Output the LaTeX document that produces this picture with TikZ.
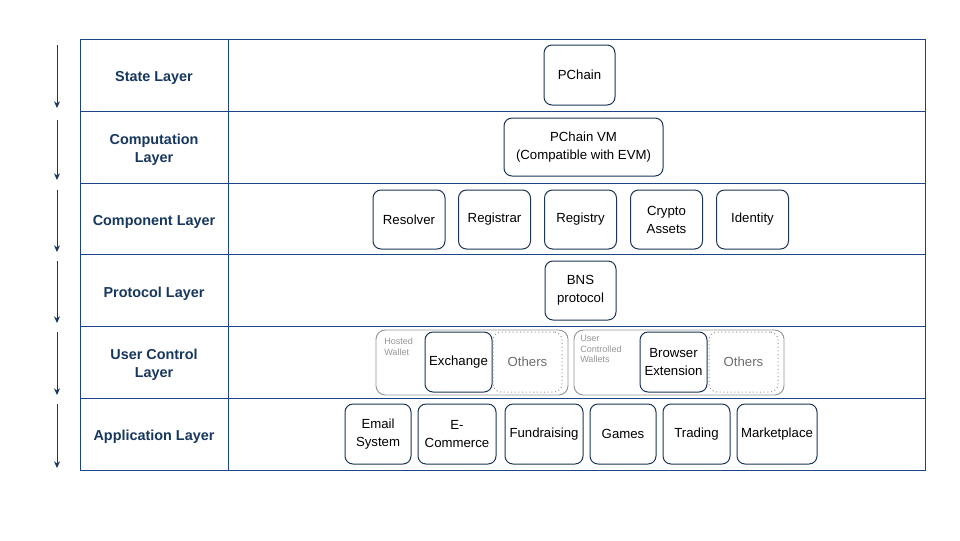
\documentclass[tikz,border=0pt]{standalone}
\usepackage{fontspec}
\setmainfont{Liberation Sans}
\usetikzlibrary{arrows.meta}
\definecolor{navy}{RGB}{28,69,135}
\definecolor{labelc}{RGB}{23,55,94}
\definecolor{boxc}{RGB}{28,52,86}
\definecolor{greyc}{RGB}{150,150,150}
\definecolor{othc}{RGB}{110,110,110}
\tikzset{
  grid/.style={draw=navy, line width=0.75pt},
  layerlabel/.style={font=\fontsize{10.8}{13.5}\selectfont\bfseries, text=labelc, align=center},
  item/.style={draw=boxc, line width=0.75pt, rounded corners=6pt, inner sep=0pt, font=\fontsize{9.9}{13.5}\selectfont, align=center},
  othbox/.style={draw=greyc, dotted, line width=0.75pt, rounded corners=6pt, inner sep=0pt, font=\fontsize{9.9}{13.5}\selectfont, text=othc, align=center},
  wallet/.style={draw=greyc, line width=0.7pt, rounded corners=7pt, inner sep=0pt},
  smalltxt/.style={font=\fontsize{6.8}{8}\selectfont, text=greyc, align=left, anchor=north west, inner sep=0pt},
  flow/.style={draw=labelc, line width=0.75pt, -{Stealth[length=5pt,width=4.5pt]}}
}
\begin{document}
\begin{tikzpicture}[x=0.75pt,y=-0.75pt]
\useasboundingbox (0,0) rectangle (960,540);
% grid
\draw[grid] (80,39) rectangle (925,470);
\draw[grid] (228,39) -- (228,470);
\foreach \y in {111,183,254,326,398}{\draw[grid] (80,\y) -- (925,\y);}
% labels
\node[layerlabel] (l1) at (154,77.5) {State Layer};
\node[layerlabel] (l2) at (154,149.5) {Computation\\Layer};
\node[layerlabel] (l3) at (154,221.5) {Component Layer};
\node[layerlabel] (l4) at (154,293.5) {Protocol Layer};
\node[layerlabel] (l5) at (154,364.5) {User Control\\Layer};
\node[layerlabel] (l6) at (154,436.5) {Application Layer};
% arrows
\coordinate (a1s) at (57,45); \coordinate (a1e) at (57,108);
\coordinate (a2s) at (57,120); \coordinate (a2e) at (57,180);
\coordinate (a3s) at (57,190); \coordinate (a3e) at (57,252);
\coordinate (a4s) at (57,261); \coordinate (a4e) at (57,323);
\coordinate (a5s) at (57,332); \coordinate (a5e) at (57,395);
\coordinate (a6s) at (57,404); \coordinate (a6e) at (57,468);
\foreach \i in {1,...,6}{\draw[flow] (a\i s) -- (a\i e);}
% state
\node[item, minimum width=71*0.75pt, minimum height=60*0.75pt] (pchain) at (579.5,75) {PChain};
% computation
\node[item, minimum width=159*0.75pt, minimum height=58*0.75pt] (vm) at (583.5,147) {PChain VM\\(Compatible with EVM)};
% component
\node[item, minimum width=72*0.75pt, minimum height=59*0.75pt] (resolver) at (409,219.5) {Resolver};
\node[item, minimum width=72*0.75pt, minimum height=59*0.75pt] (registrar) at (494.5,219.5) {Registrar};
\node[item, minimum width=72*0.75pt, minimum height=59*0.75pt] (registry) at (580.5,219.5) {Registry};
\node[item, minimum width=72*0.75pt, minimum height=59*0.75pt] (crypto) at (666.5,219.5) {Crypto\\Assets};
\node[item, minimum width=72*0.75pt, minimum height=59*0.75pt] (identity) at (752.5,219.5) {Identity};
% protocol
\node[item, minimum width=71*0.75pt, minimum height=59*0.75pt] (bns) at (580.5,290.5) {BNS\\protocol};
% user control
\node[wallet, minimum width=192*0.75pt, minimum height=65*0.75pt] (hosted) at (472,362.5) {};
\node[smalltxt] (hostedt) at (384,338) {Hosted\\Wallet};
\node[item, minimum width=67*0.75pt, minimum height=60*0.75pt] (exchange) at (458.5,362) {Exchange};
\node[othbox, minimum width=69*0.75pt, minimum height=60*0.75pt] (oth1) at (527.5,362) {Others};
\node[wallet, minimum width=210*0.75pt, minimum height=65*0.75pt] (userc) at (679,362.5) {};
\node[smalltxt] (usert) at (580,335) {User\\Controlled\\Wallets};
\node[item, minimum width=67*0.75pt, minimum height=60*0.75pt] (browser) at (673.5,362) {Browser\\Extension};
\node[othbox, minimum width=69*0.75pt, minimum height=60*0.75pt] (oth2) at (743.5,362) {Others};
% application
\node[item, minimum width=66*0.75pt, minimum height=60*0.75pt] (email) at (378,434) {Email\\System};
\node[item, minimum width=78*0.75pt, minimum height=60*0.75pt] (ecom) at (457,434) {E-\\Commerce};
\node[item, minimum width=78*0.75pt, minimum height=60*0.75pt] (fund) at (544,434) {Fundraising};
\node[item, minimum width=66*0.75pt, minimum height=60*0.75pt] (games) at (623,434) {Games};
\node[item, minimum width=67*0.75pt, minimum height=60*0.75pt] (trading) at (696.5,434) {Trading};
\node[item, minimum width=80*0.75pt, minimum height=60*0.75pt] (market) at (777,434) {Marketplace};
\end{tikzpicture}
\end{document}
